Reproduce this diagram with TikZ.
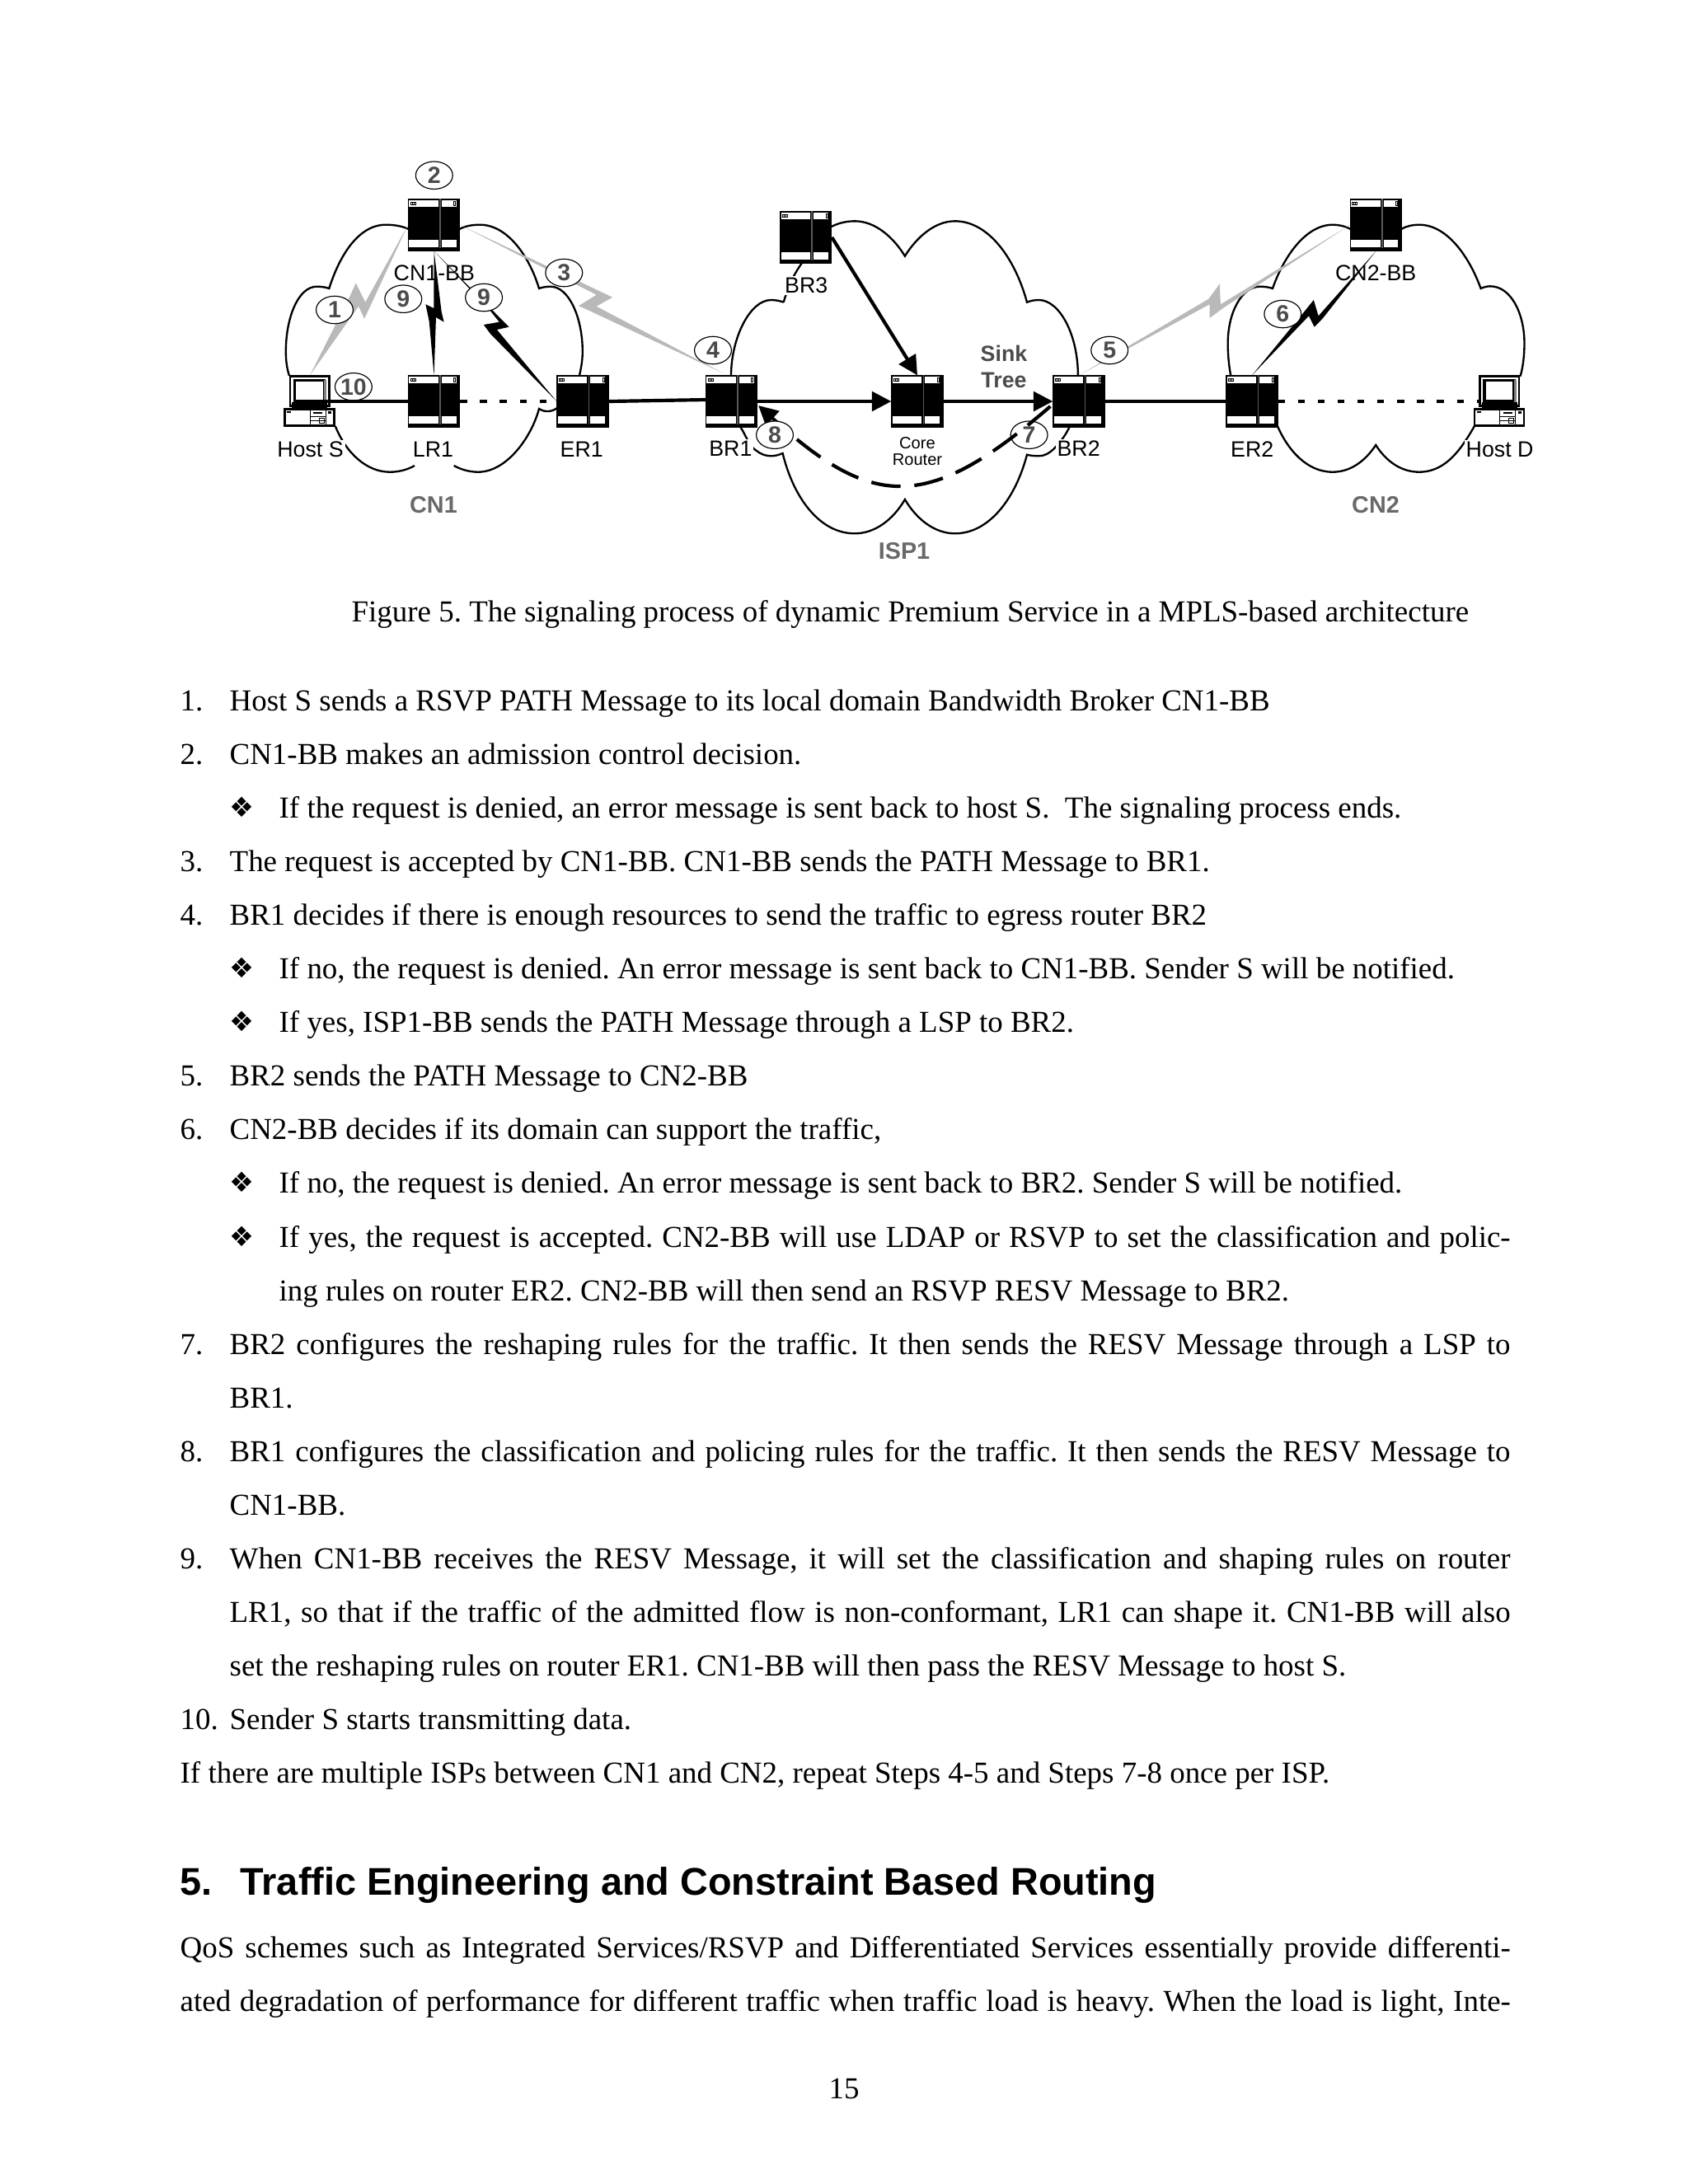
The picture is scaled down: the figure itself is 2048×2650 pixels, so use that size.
\documentclass[tikz,border=0pt]{standalone}
\usepackage{fontspec}
\setmainfont{Liberation Serif}
\setsansfont{Liberation Sans}
\newfontfamily\dingfont{DejaVu Sans}
\usepackage{tikz}
\usetikzlibrary{arrows.meta,shapes.geometric,calc}
\definecolor{boltgrey}{RGB}{185,185,185}
\definecolor{markgrey}{RGB}{75,75,75}
\definecolor{netgrey}{RGB}{105,105,105}
\pgfdeclarelayer{background}
\pgfsetlayers{background,main}
\newcommand{\stepno}[1]{\makebox[17.93pt][l]{#1}}
\newcommand{\dingmark}{\makebox[17.93pt][l]{\raisebox{0.3pt}{\dingfont\fontsize{10}{12}\selectfont ❖}}}
\newcommand{\fullline}[2]{\makebox[#1][s]{#2}}
\tikzset{
  routerbox/.style={rectangle, draw, line width=0.9pt, fill=black, inner sep=0pt, minimum width=18pt, minimum height=18pt},
  hostbox/.style={rectangle, inner sep=0pt, minimum width=18.5pt, minimum height=18.5pt},
  stepmark/.style={ellipse, draw, line width=0.35pt, fill=white, inner sep=0pt, minimum width=13.4pt, minimum height=10pt,
    text=markgrey, font=\sffamily\bfseries\fontsize{8.5}{9}\selectfont},
  devlabel/.style={inner sep=0.6pt, fill=white, font=\sffamily\fontsize{8}{9}\selectfont},
  netlabel/.style={inner sep=0pt, text=netgrey, font=\sffamily\bfseries\fontsize{8.6}{10}\selectfont},
  cloudline/.style={line width=0.7pt},
  linkline/.style={line width=1.25pt},
  dashlink/.style={line width=1.25pt, dash pattern=on 2.5pt off 4.7pt},
  arrowlink/.style={line width=1.25pt, -{Triangle[length=7pt,width=7pt]}},
  bodyline/.style={anchor=base west, inner sep=0pt, font=\fontsize{11.04}{13}\selectfont\frenchspacing}
}
% name, x, y
\newcommand{\routerat}[3]{
  \node[routerbox] (#1) at (#2,#3) {};
  \begin{scope}[shift={(#1.north west)}]
    \fill[white] (1.5,1.5) rectangle (37,9.5);
    \fill[white] (41,1.5) rectangle (58.7,9.5);
    \fill[white] (1.5,50) rectangle (37,58.7);
    \fill[white] (41,50) rectangle (58.7,58.7);
    \fill[black!65] (38.2,0) rectangle (39.8,60);
    \draw[line width=0.2pt] (3,4) rectangle (9,7);
    \draw[line width=0.2pt] (5,4) -- (5,7) (7,4) -- (7,7);
    \draw[line width=0.3pt] (56,3) rectangle (58,8);
  \end{scope}
}
\newcommand{\hostat}[3]{
  \node[hostbox] (#1) at (#2,#3) {};
  \begin{scope}[shift={(#1.north west)}]
    \draw[line width=0.8pt, fill=white] (7.5,1) rectangle (55,37);
    \draw[line width=1pt, fill=white] (13,6) rectangle (49,31);
    \fill[gray] (49,6) rectangle (52,34);
    \fill (10,33) rectangle (53,36);
    \fill (24,31) rectangle (38,33);
    \fill (10,37) rectangle (53,40);
    \draw[line width=0.8pt, fill=white] (1,41) rectangle (61,61);
    \fill (4,44) rectangle (9,46);
    \draw[line width=0.3pt] (32,42) rectangle (51,60);
    \draw[line width=0.3pt] (32,50) -- (51,50) (32,55) -- (51,55);
    \fill (36,45) rectangle (47,47);
    \draw[line width=0.3pt] (43,52) rectangle (49,58);
    \fill (54,44) rectangle (58,47);
  \end{scope}
}
\begin{document}
\begin{tikzpicture}[x=0.2988pt, y=-0.2988pt]
  \useasboundingbox (0,0) rectangle (2048,2650);
  % Routers and hosts
  \routerat{cnonebb}{526.6}{273}
  \routerat{lrone}{526.6}{487}
  \routerat{erone}{707}{487}
  \routerat{brone}{887.5}{487}
  \routerat{brthree}{977.7}{288}
  \routerat{core}{1113}{487}
  \routerat{brtwo}{1309}{487}
  \routerat{ertwo}{1519}{487}
  \routerat{cntwobb}{1669.4}{273}
  \hostat{hosts}{376}{487}
  \hostat{hostd}{1819.5}{487}
  % Device labels
  \node[devlabel, fill=none] (cnonebblabel) at (526.8,331) {CN1-BB};
  \node[devlabel] (hostslabel) at (376.5,545) {Host S};
  \node[devlabel] (lronelabel) at (525.5,545) {LR1};
  \node[devlabel] (eronelabel) at (705.7,545) {ER1};
  \node[devlabel] (bronelabel) at (886.4,544) {BR1};
  \node[devlabel] (brthreelabel) at (978.2,346) {BR3};
  \node[devlabel] (brtwolabel) at (1308.6,544) {BR2};
  \node[devlabel] (ertwolabel) at (1519.2,545) {ER2};
  \node[devlabel, fill=none] (cntwobblabel) at (1669.2,331) {CN2-BB};
  \node[devlabel] (hostdlabel) at (1819.6,545) {Host D};
  \node[inner sep=0pt, align=center, font=\sffamily\fontsize{6}{6}\selectfont] (corelabel) at (1113,548) {Core\\Router};
  \node[inner sep=0pt, align=center, text=markgrey, font=\sffamily\bfseries\fontsize{8}{9.6}\selectfont] (sinktree) at (1218,444.5) {Sink\\Tree};
  \node[netlabel] (cnone) at (526,613) {CN1};
  \node[netlabel] (ispone) at (1097,669) {ISP1};
  \node[netlabel] (cntwo) at (1669,613) {CN2};
  % Step marks
  \node[stepmark] (mark1) at (406,376) {1};
  \node[stepmark] (mark2) at (526.8,212.7) {2};
  \node[stepmark] (mark3) at (684.3,331) {3};
  \node[stepmark] (mark4) at (865,425) {4};
  \node[stepmark] (mark5) at (1346.2,425) {5};
  \node[stepmark] (mark6) at (1556.3,381) {6};
  \node[stepmark] (mark7) at (1248.6,527.7) {7};
  \node[stepmark] (mark9a) at (489.3,362.7) {9};
  \node[stepmark] (mark9b) at (587.1,361) {9};
  \node[stepmark] (mark10) at (428.9,469.3) {10};
  % Sink tree links
  \draw[linkline] (hosts.center) -- (lrone.west);
  \draw[dashlink] (lrone.east) -- (erone.west);
  \draw[linkline] (erone.east) -- ($(brone.west)+(0,-2)$);
  \draw[arrowlink] (brone.east) -- (core.west);
  \draw[arrowlink] (core.east) -- (brtwo.west);
  \draw[arrowlink] (brthree.east) -- (core.north);
  \draw[linkline] (brtwo.east) -- (ertwo.west);
  \draw[dashlink] (ertwo.east) -- ($(hostd.west)+(7,0)$);
  \draw[line width=1.25pt, dash pattern=on 10.7pt off 5pt, -{Triangle[length=7pt,width=7pt]}]
    ($(brtwo.west)+(-3,6)$) .. controls (1127,620) and (1061,620) .. ($(brone.east)+(1,5)$);
  \node[stepmark] (mark8) at (940,527.7) {8};
  \begin{pgfonlayer}{background}
    % Clouds
    \draw[cloudline] (495.7,278) .. controls (487,274) and (478,272.7) .. (468,272.7)
      .. controls (435,272.7) and (412,310) .. (399.3,350)
      .. controls (395,348.5) and (390,347.7) .. (384.3,347.7)
      .. controls (362,347.7) and (346.8,385) .. (346.8,426.7)
      .. controls (346.8,437) and (348,447) .. (351,456);
    \draw[cloudline] (557.5,278) .. controls (565,274) and (573,272.7) .. (582.5,272.7)
      .. controls (615,272.7) and (642,310) .. (654,350)
      .. controls (658,348.5) and (663,347.7) .. (668,347.7)
      .. controls (690,347.7) and (706.8,385) .. (706.8,426.7)
      .. controls (706.8,437) and (705,447) .. (702.9,456);
    \draw[cloudline] (676,495) .. controls (672,498) and (668,499) .. (664.6,499)
      .. controls (660,499) and (657,498) .. (654,496)
      .. controls (645,530) and (615,572.7) .. (580,572.7)
      .. controls (570,572.7) and (560,570) .. (550.7,565);
    \draw[cloudline] (503,565) .. controls (494,570) and (484,572.7) .. (473,572.7)
      .. controls (445,572.7) and (420,550) .. (406.8,517);
    \draw[cloudline] (950.7,366.7) .. controls (946,365) and (941,364) .. (935.4,364)
      .. controls (910,364) and (887,410) .. (887,456);
    \draw[cloudline] (950.7,366.7) .. controls (957,345) and (965,328) .. (980,310);
    \draw[cloudline] (1000,280) .. controls (1012,272) and (1024,268.3) .. (1037,268.3)
      .. controls (1062,268.3) and (1084,288) .. (1097.9,310.7)
      .. controls (1112,288) and (1134,268.3) .. (1158.6,268.3)
      .. controls (1200,268.3) and (1232,315) .. (1246,366.7)
      .. controls (1250,365) and (1255,364) .. (1260.4,364)
      .. controls (1285,364) and (1307.9,405) .. (1307.9,456);
    \draw[cloudline] (897.9,517.3) .. controls (906,530) and (908,540) .. (917.5,546.7)
      .. controls (923,551) and (929,553.3) .. (935.4,553.3)
      .. controls (940,553.3) and (945,552) .. (949.6,550)
      .. controls (963,605) and (995,647.3) .. (1037,647.3)
      .. controls (1062,647.3) and (1084,630) .. (1097.9,606)
      .. controls (1112,630) and (1134,647.3) .. (1158.6,647.3)
      .. controls (1200,647.3) and (1232,605) .. (1246,551.7)
      .. controls (1250,552.8) and (1255,553.3) .. (1260.4,553.3)
      .. controls (1267,553.3) and (1273,550) .. (1278.2,545)
      .. controls (1285,538) and (1292,530) .. (1297.9,517.3);
    \draw[cloudline] (1638.6,278) .. controls (1631,274) and (1624,272.7) .. (1616.8,272.7)
      .. controls (1585,272.7) and (1558,310) .. (1544,350)
      .. controls (1540,348.5) and (1534,347.7) .. (1528.8,347.7)
      .. controls (1506,347.7) and (1489.7,380) .. (1489.7,416.7)
      .. controls (1489.7,430) and (1491,445) .. (1493.5,456.7);
    \draw[cloudline] (1700.2,278) .. controls (1707,274) and (1714,272.7) .. (1722,272.7)
      .. controls (1755,272.7) and (1782,310) .. (1796.6,350)
      .. controls (1800,348.5) and (1804,347.3) .. (1808,347.3)
      .. controls (1833,347.3) and (1849.5,380) .. (1849.5,416.7)
      .. controls (1849.5,430) and (1848,445) .. (1844.5,456.7);
    \draw[cloudline] (1549.8,516.7) .. controls (1562,545) and (1585,572.7) .. (1616.8,572.7)
      .. controls (1638,572.7) and (1656,560) .. (1669.2,540)
      .. controls (1682,560) and (1700,572.7) .. (1722,572.7)
      .. controls (1745,572.7) and (1762,558) .. (1775.6,538.3)
      .. controls (1780,532) and (1785,524) .. (1789,516.7);
    % Signalling bolts
    \fill[boltgrey] (hosts.north) -- (424.6,359.3) -- (431.8,343.3) -- (443.2,366.7) -- (cnonebb.west)
      -- (442.1,386.7) -- (435,371.7) -- cycle;
    \fill[boltgrey] (cnonebb.east) -- (743.2,360.7) -- (723.6,371.7) -- ($(brone.north)+(-9,-2)$)
      -- (702.1,371) -- (723.6,357.7) -- cycle;
    \fill[boltgrey] (brtwo.north) -- (1466.4,362.7) -- (1479.8,344.3) -- (1480.9,369.3) -- (cntwobb.west)
      -- (1484.7,373.3) -- (1467.5,386) -- (1467.5,369.3) -- cycle;
    \fill (cnonebb.south) -- (526.4,374) -- (516.4,369.3) -- (520.7,390) -- (lrone.north)
      -- (529,385) -- (538.6,390.7) -- (535.7,378.3) -- cycle;
    \fill (cnonebb.south) -- (617.5,396.7) -- (602.9,400) -- (erone.west)
      -- (595,405) -- (586.8,394) -- (605.7,390.7) -- (595,377.3) -- cycle;
    \fill (ertwo.north) -- (1582.3,378.3) -- (1593.8,364) -- (1599.6,383.3) -- (cntwobb.south)
      -- (1604.5,386.7) -- (1594.6,396.7) -- (1588,383.3) -- cycle;
  \end{pgfonlayer}
  % Caption
  \node[bodyline] (caption) at (426,754) {Figure 5. The signaling process of dynamic Premium Service in a MPLS-based architecture};
  % Steps
  \node[bodyline] (line1) at (218,862) {\stepno{1.}Host S sends a RSVP PATH Message to its local domain Bandwidth Broker CN1-BB};
  \node[bodyline] (line2) at (218,927) {\stepno{2.}CN1-BB makes an admission control decision.};
  \node[bodyline] (line3) at (278,992) {\dingmark If the request is denied, an error message is sent back to host S.\ \ The signaling process ends.};
  \node[bodyline] (line4) at (218,1057) {\stepno{3.}The request is accepted by CN1-BB. CN1-BB sends the PATH Message to BR1.};
  \node[bodyline] (line5) at (218,1122) {\stepno{4.}BR1 decides if there is enough resources to send the traffic to egress router BR2};
  \node[bodyline] (line6) at (278,1187) {\dingmark If no, the request is denied. An error message is sent back to CN1-BB. Sender S will be notified.};
  \node[bodyline] (line7) at (278,1252) {\dingmark If yes, ISP1-BB sends the PATH Message through a LSP to BR2.};
  \node[bodyline] (line8) at (218,1317) {\stepno{5.}BR2 sends the PATH Message to CN2-BB};
  \node[bodyline] (line9) at (218,1382) {\stepno{6.}CN2-BB decides if its domain can support the traffic,};
  \node[bodyline] (line10) at (278,1447) {\dingmark If no, the request is denied. An error message is sent back to BR2. Sender S will be notified.};
  \node[bodyline] (line11) at (278,1513) {\dingmark\fullline{446.4pt}{If yes, the request is accepted. CN2-BB will use LDAP or RSVP to set the classification and polic-}};
  \node[bodyline] (line12) at (338,1578) {ing rules on router ER2. CN2-BB will then send an RSVP RESV Message to BR2.};
  \node[bodyline] (line13) at (218,1643) {\stepno{7.}\fullline{464.3pt}{BR2 configures the reshaping rules for the traffic. It then sends the RESV Message through a LSP to}};
  \node[bodyline] (line14) at (278,1708) {BR1.};
  \node[bodyline] (line15) at (218,1773) {\stepno{8.}\fullline{464.3pt}{BR1 configures the classification and policing rules for the traffic. It then sends the RESV Message to}};
  \node[bodyline] (line16) at (278,1838) {CN1-BB.};
  \node[bodyline] (line17) at (218,1903) {\stepno{9.}\fullline{464.3pt}{When CN1-BB receives the RESV Message, it will set the classification and shaping rules on router}};
  \node[bodyline] (line18) at (278,1968) {\fullline{464.3pt}{LR1, so that if the traffic of the admitted flow is non-conformant, LR1 can shape it. CN1-BB will also}};
  \node[bodyline] (line19) at (278,2033) {set the reshaping rules on router ER1. CN1-BB will then pass the RESV Message to host S.};
  \node[bodyline] (line20) at (218,2098) {\stepno{10.}Sender S starts transmitting data.};
  \node[bodyline] (line21) at (218,2163) {If there are multiple ISPs between CN1 and CN2, repeat Steps 4-5 and Steps 7-8 once per ISP.};
  % Section heading and paragraph
  \node[bodyline, font=\sffamily\bfseries\fontsize{14}{16}\selectfont] (headno) at (218,2299) {5.};
  \node[bodyline, font=\sffamily\bfseries\fontsize{14}{16}\selectfont] (head) at (291,2299) {Traffic Engineering and Constraint Based Routing};
  \node[bodyline] (para1) at (218,2375) {\fullline{482.3pt}{QoS schemes such as Integrated Services/RSVP and Differentiated Services essentially provide differenti-}};
  \node[bodyline] (para2) at (218,2440) {\fullline{482.3pt}{ated degradation of performance for different traffic when traffic load is heavy. When the load is light, Inte-}};
  \node[bodyline, anchor=base] (pageno) at (1024,2546) {15};
\end{tikzpicture}
\end{document}
